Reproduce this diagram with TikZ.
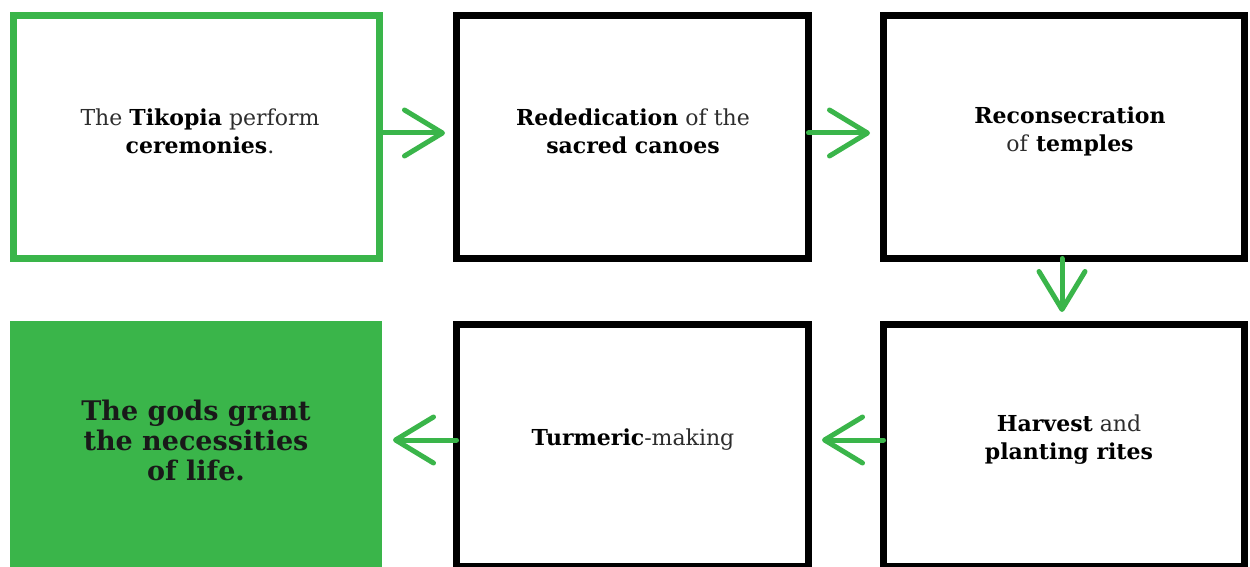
\documentclass[tikz,border=0pt]{standalone}
\usepackage{fontspec}
\setmainfont{DejaVu Serif}
\usetikzlibrary{arrows.meta}
\definecolor{tgreen}{RGB}{58,181,74}
\definecolor{tgray}{RGB}{45,45,45}
\tikzset{
  box/.style={draw=black, line width=7pt, rectangle, inner sep=0pt, outer sep=0pt,
              minimum height=243pt},
  gbox/.style={box, draw=tgreen},
  fbox/.style={rectangle, fill=tgreen, draw=none, inner sep=0pt, outer sep=0pt},
  txt/.style={align=center, font=\fontsize{22}{28}\selectfont, text=tgray},
  gtxt/.style={align=center, font=\fontsize{27}{30}\selectfont\bfseries, text=black!90},
  arr/.style={draw=tgreen, line width=5pt, line cap=round, line join=round,
              -{Straight Barb[length=38pt,width=46pt,round]}},
}
\newcommand{\bx}[1]{\textbf{\color{black}#1}}
\begin{document}
\begin{tikzpicture}[x=1pt,y=-1pt]
\useasboundingbox (0,0) rectangle (1250,567);
% boxes
\node[gbox, minimum width=366pt] (b1) at (196.5,137) {};
\node[box, minimum width=352pt] (b2) at (632.5,137) {};
\node[box, minimum width=361pt] (b3) at (1064,137) {};
\node[fbox, minimum width=372pt, minimum height=260pt] (b4) at (196,451) {};
\node[box, minimum width=352pt, minimum height=241.5pt] (b5) at (632.5,445.25) {};
\node[box, minimum width=361pt, minimum height=241.5pt] (b6) at (1064,445.25) {};
% texts
\node[txt] (t1) at (200,131) {The \bx{Tikopia} perform\\\bx{ceremonies}.};
\node[txt] (t2) at (633,131) {\bx{Rededication} of the\\\bx{sacred canoes}};
\node[txt] (t3) at (1070,131) {\bx{Reconsecration}\\of \bx{temples}};
\node[gtxt] (t4) at (196,440) {The gods grant\\the necessities\\of life.};
\node[txt] (t5) at (633,440) {\bx{Turmeric}-making};
\node[txt] (t6) at (1069,440) {\bx{Harvest} and\\\bx{planting rites}};
% arrows
\coordinate (a1) at (445,133);
\coordinate (a2) at (870,133);
\coordinate (a3) at (1062,312);
\coordinate (a4) at (822,440);
\coordinate (a5) at (393,440);
\draw[arr] (a1 -| b1.east) -- (a1);
\draw[arr] (a2 -| b2.east) -- (a2);
\draw[arr] (a3 |- b3.south) -- (a3);
\draw[arr] (a4 -| b6.west) -- (a4);
\draw[arr] (a5 -| b5.west) -- (a5);
\end{tikzpicture}
\end{document}
